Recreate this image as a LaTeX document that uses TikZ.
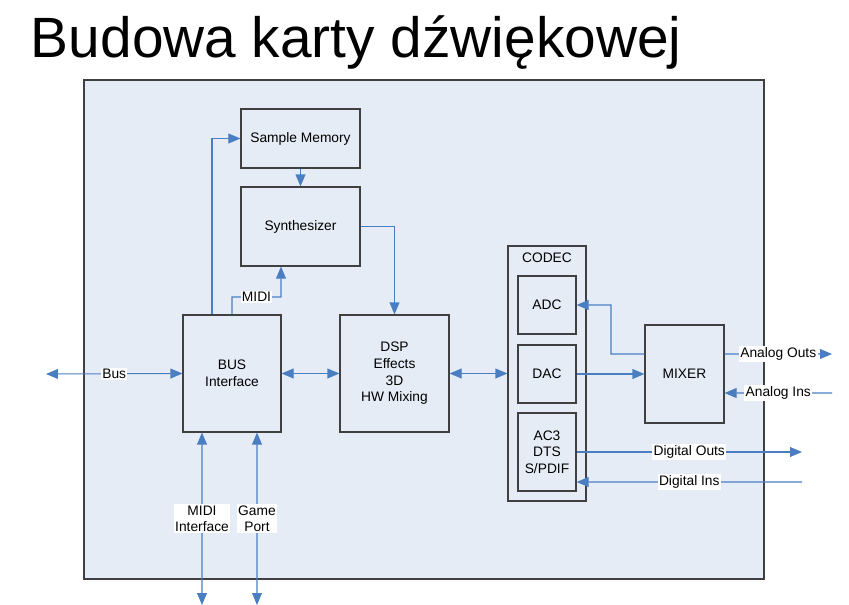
\documentclass[tikz,border=0pt]{standalone}
\usepackage{fontspec}
\setmainfont{Liberation Sans}
\usepackage{tikz}
\usetikzlibrary{arrows.meta}
\definecolor{linkblue}{RGB}{74,126,193}
\definecolor{panelblue}{RGB}{230,236,246}
\definecolor{boxgray}{RGB}{64,64,64}

\begin{document}
\begin{tikzpicture}[x=0.025cm,y=-0.025cm,
	>={Triangle[length=8.5pt,width=7pt]},
	every node/.style={font=\fontsize{9.8}{11.9}\selectfont},
	block/.style={draw=boxgray,line width=0.8pt,align=center,inner sep=0pt},
	link/.style={draw=linkblue,line width=0.75pt,->},
	link2/.style={draw=linkblue,line width=0.75pt,<->},
	lbl/.style={fill=white,inner sep=1pt,align=center}]
	\useasboundingbox (0,0) rectangle (849,605);
	
	\node[anchor=base west,font=\fontsize{40.4}{48}\selectfont] (title) at (26,57) {Budowa karty dźwiękowej};
	
	\draw[draw=boxgray,fill=panelblue,line width=1pt] (84,80) rectangle (764,579);
	
	\node[block,minimum width=2.975cm,minimum height=1.475cm] (mem) at (300.5,138.5) {Sample Memory};
	\node[block,minimum width=2.975cm,minimum height=1.975cm] (synth) at (300.5,226.5) {Synthesizer};
	\node[block,minimum width=2.45cm,minimum height=2.925cm] (bus) at (232,373.5) {BUS\\Interface};
	\node[block,minimum width=2.725cm,minimum height=2.925cm] (dsp) at (394.5,373.5) {DSP\\Effects\\3D\\HW Mixing};
	\node[block,minimum width=1.95cm,minimum height=6.375cm] (codec) at (547,373.5) {};
	\node (codectxt) at (547,258) {CODEC};
	\node[block,minimum width=1.45cm,minimum height=1.45cm] (adc) at (547,305) {ADC};
	\node[block,minimum width=1.45cm,minimum height=1.45cm] (dac) at (547,374) {DAC};
	\node[block,minimum width=1.45cm,minimum height=1.95cm] (ac3) at (547,452) {AC3\\DTS\\S/PDIF};
	\node[block,minimum width=1.975cm,minimum height=2.45cm] (mixer) at (684.5,374) {MIXER};
	
	\coordinate (busend) at (46,374);
	\coordinate (midibend) at (281,297);
	\coordinate (midiup) at ([xshift=-0.4875cm]synth.south);
	\coordinate (mixbend) at (611,354);
	\coordinate (aout) at (832,354);
	\coordinate (ain) at (832,393);
	\coordinate (dout) at (802,452);
	\coordinate (din) at (802,482);
	\coordinate (midiport) at (202,605);
	\coordinate (gameport) at (257,605);
	
	\draw[link] ([xshift=-0.5cm]bus.north) |- (mem.west);
	\draw[link] (mem.south) -- (synth.north);
	\draw[link] (bus.north) |- node[lbl,pos=0.75] {MIDI} (midibend) -- (midiup);
	\draw[link] (synth.east) -| (dsp.north);
	\draw[link2] (busend) -- node[lbl] {Bus} (bus.west);
	\draw[link2] (bus.east) -- (dsp.west);
	\draw[link2] (dsp.east) -- (codec.west);
	\draw[link] ([yshift=0.5cm]mixer.west) -- (mixbend) |- (adc.east);
	\draw[link] (dac.east) -- (mixer.west);
	\draw[link] ([yshift=0.5cm]mixer.east) -- node[lbl] {Analog Outs} (aout);
	\draw[link] (ain) -- node[lbl] {Analog Ins} ([yshift=-0.475cm]mixer.east);
	\draw[link] (ac3.east) -- node[lbl] {Digital Outs} (dout);
	\draw[link] (din) -- node[lbl] {Digital Ins} ([yshift=-0.75cm]ac3.east);
	\draw[link2] ([xshift=-0.75cm]bus.south) -- node[lbl] {MIDI\\Interface} (midiport);
	\draw[link2] ([xshift=0.625cm]bus.south) -- node[lbl] {Game\\Port} (gameport);
\end{tikzpicture}
\end{document}
